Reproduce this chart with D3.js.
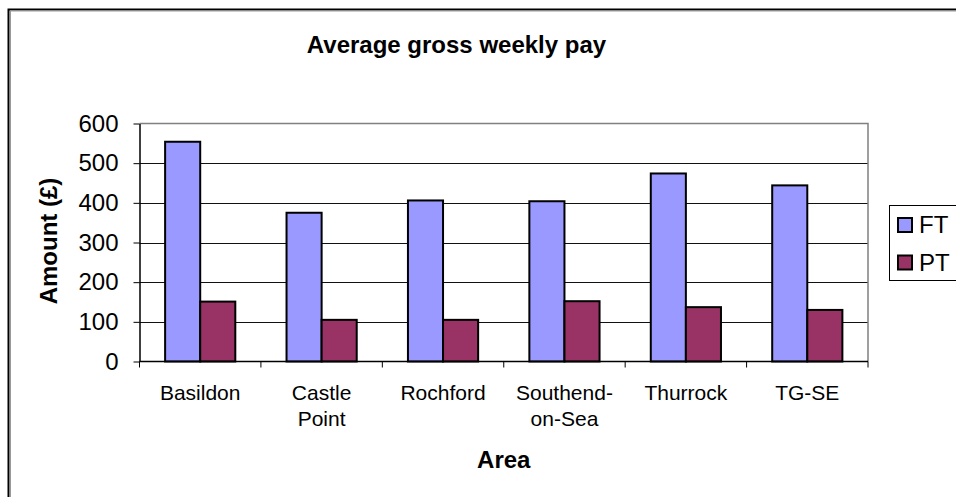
<!DOCTYPE html>
<html>
<head>
<meta charset="utf-8">
<script src="https://cdn.jsdelivr.net/npm/d3@7"></script>
<style>
  body { margin: 0; background: #fff; }
  svg { display: block; font-family: "Liberation Sans", Arial, sans-serif; }
</style>
</head>
<body>
<svg id="chart" width="956" height="497"></svg>
<script>
// chart data
var categories = ['Basildon', 'Castle Point', 'Rochford', 'Southend-on-Sea', 'Thurrock', 'TG-SE']
var catLabels  = ['Basildon', 'Castle\nPoint', 'Rochford', 'Southend-\non-Sea', 'Thurrock', 'TG-SE']
var seriesNames = ['FT', 'PT']
var ftValues = [554, 375, 406, 404, 474, 444]
var ptValues = [151, 105, 105, 152, 137, 130]
var yTicks = [0, 100, 200, 300, 400, 500, 600]

var colors = { FT: '#9999ff', PT: '#993366' }

// plot area
var plotL = 139.5, plotR = 868, plotT = 123.5, plotB = 361.5

var svg = d3.select('#chart')

// outer chart frame (runs off the page to the right and bottom)
svg.append('rect')
    .attr('x', 8.5).attr('y', 9.5)
    .attr('width', 1000).attr('height', 600)
    .attr('fill', 'none')
    .attr('stroke', '#000')
    .attr('stroke-width', 2)
svg.append('rect')
    .attr('x', 10.5).attr('y', 11)
    .attr('width', 1000).attr('height', 600)
    .attr('fill', 'none')
    .attr('stroke', '#999')
    .attr('stroke-width', 1)

var x0 = d3.scaleBand()
    .domain(categories)
    .range([plotL, plotR])
    .padding(0)

var x1 = d3.scaleBand()
    .domain(seriesNames)
    .range([0, x0.bandwidth()])
    .paddingInner(0)
    .paddingOuter(0.73)

var y = d3.scaleLinear()
    .domain([0, 600])
    .range([plotB, plotT])

// gridlines
svg.append('g')
    .selectAll('line')
    .data(yTicks.slice(1, -1))
    .join('line')
    .attr('x1', plotL).attr('x2', plotR)
    .attr('y1', d => Math.round(y(d)) + 0.5)
    .attr('y2', d => Math.round(y(d)) + 0.5)
    .attr('stroke', '#111')
    .attr('stroke-width', 1)

// plot area border (top and right in grey)
svg.append('path')
    .attr('d', 'M' + plotL + ',' + plotT + 'H' + plotR + 'V' + plotB)
    .attr('fill', 'none')
    .attr('stroke', '#808080')
    .attr('stroke-width', 1.5)

// bars
var rows = categories.map(function(c, i) {
  return { cat: c, values: [{ key: 'FT', v: ftValues[i] }, { key: 'PT', v: ptValues[i] }] }
})

var groups = svg.append('g')
    .selectAll('g')
    .data(rows)
    .join('g')
    .attr('transform', d => 'translate(' + x0(d.cat) + ',0)')

groups.selectAll('rect')
    .data(d => d.values)
    .join('rect')
    .attr('x', d => x1(d.key))
    .attr('y', d => y(d.v))
    .attr('width', x1.bandwidth())
    .attr('height', d => y(0) - y(d.v))
    .attr('fill', d => colors[d.key])
    .attr('stroke', '#000')
    .attr('stroke-width', 2)

// y axis
var yAxis = svg.append('g')
    .attr('transform', 'translate(' + plotL + ',0)')
    .call(d3.axisLeft(y).tickValues(yTicks).tickSize(6).tickPadding(15).tickSizeOuter(0))
yAxis.select('.domain').attr('stroke', '#000').attr('stroke-width', 1.5)
yAxis.selectAll('.tick line').attr('stroke', '#000')
yAxis.selectAll('.tick text')
    .attr('font-size', 24)
    .attr('fill', '#000')
    .attr('font-family', '"Liberation Sans", Arial, sans-serif')

// x axis: ticks between categories
svg.append('line')
    .attr('x1', plotL).attr('x2', plotR)
    .attr('y1', plotB).attr('y2', plotB)
    .attr('stroke', '#000').attr('stroke-width', 1.5)

svg.append('g')
    .selectAll('line')
    .data(categories.concat(['end']))
    .join('line')
    .attr('x1', (d, i) => plotL + i * x0.step())
    .attr('x2', (d, i) => plotL + i * x0.step())
    .attr('y1', plotB).attr('y2', plotB + 6)
    .attr('stroke', '#000')

svg.append('g')
    .selectAll('text')
    .data(categories)
    .join('text')
    .attr('x', d => x0(d) + x0.bandwidth() / 2)
    .attr('y', 400)
    .attr('text-anchor', 'middle')
    .attr('font-size', 21)
    .each(function(d, i) {
      var lines = catLabels[i].split('\n')
      d3.select(this).selectAll('tspan')
        .data(lines)
        .join('tspan')
        .attr('x', x0(d) + x0.bandwidth() / 2)
        .attr('dy', (l, j) => j === 0 ? 0 : 26)
        .text(l => l)
    })

// titles
svg.append('text')
    .attr('x', 456.5).attr('y', 53)
    .attr('text-anchor', 'middle')
    .attr('font-size', 24)
    .attr('font-weight', 'bold')
    .text('Average gross weekly pay')

svg.append('text')
    .attr('x', (plotL + plotR) / 2).attr('y', 468)
    .attr('text-anchor', 'middle')
    .attr('font-size', 24)
    .attr('font-weight', 'bold')
    .text('Area')

svg.append('text')
    .attr('transform', 'translate(57,241) rotate(-90)')
    .attr('text-anchor', 'middle')
    .attr('font-size', 24)
    .attr('font-weight', 'bold')
    .text('Amount (£)')

// legend
var legend = svg.append('g')
legend.append('rect')
    .attr('x', 889.5).attr('y', 205.5)
    .attr('width', 100).attr('height', 75)
    .attr('fill', '#fff')
    .attr('stroke', '#000')
    .attr('stroke-width', 1)

var items = legend.selectAll('g')
    .data(seriesNames)
    .join('g')
    .attr('transform', (d, i) => 'translate(0,' + (i * 37.5) + ')')

items.append('rect')
    .attr('x', 898).attr('y', 218)
    .attr('width', 14).attr('height', 14)
    .attr('fill', d => colors[d])
    .attr('stroke', '#000')
    .attr('stroke-width', 2)

items.append('text')
    .attr('x', 919).attr('y', 233)
    .attr('font-size', 24)
    .text(d => d)
</script>
</body>
</html>
